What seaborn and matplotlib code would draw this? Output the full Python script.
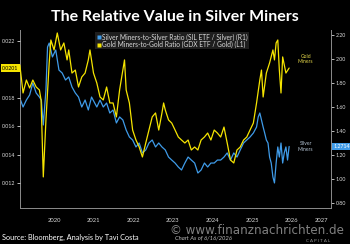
import numpy as np
import pandas as pd
import matplotlib
matplotlib.use("Agg")
import matplotlib.pyplot as plt
import seaborn as sns
from matplotlib.lines import Line2D

# ---------------- data ----------------
gold_t = [2019.636, 2019.717, 2019.801, 2019.883, 2019.964, 2020.048, 2020.130, 2020.172,
          2020.228, 2020.295, 2020.377, 2020.419, 2020.500, 2020.581, 2020.665, 2020.747,
          2020.828, 2020.870, 2020.952, 2021.036, 2021.117, 2021.199, 2021.283, 2021.364,
          2021.406, 2021.495, 2021.579, 2021.660, 2021.742, 2021.826, 2021.907, 2021.989,
          2022.073, 2022.154, 2022.236, 2022.278, 2022.320, 2022.401, 2022.483, 2022.567,
          2022.648, 2022.730, 2022.814, 2022.895, 2022.977, 2023.061, 2023.142, 2023.223,
          2023.265, 2023.307, 2023.389, 2023.470, 2023.554, 2023.636, 2023.717, 2023.801,
          2023.883, 2023.964, 2024.048, 2024.130, 2024.211, 2024.295, 2024.377, 2024.458,
          2024.542, 2024.623, 2024.705, 2024.789, 2024.870, 2024.952, 2025.036, 2025.117,
          2025.199, 2025.283, 2025.364, 2025.446, 2025.530, 2025.611, 2025.693, 2025.735,
          2025.777, 2025.858, 2025.940, 2026.024, 2026.063, 2026.105, 2026.147, 2026.186,
          2026.228, 2026.270, 2026.352, 2026.433]
gold_ratio = [0.02029, 0.01833, 0.01924, 0.01868, 0.01924, 0.01875, 0.01854, 0.01784,
              0.01244, 0.01644, 0.02044, 0.02205, 0.02135, 0.02254, 0.02135, 0.02184,
              0.02065, 0.02135, 0.01973, 0.01994, 0.01875, 0.01945, 0.01973, 0.02065,
              0.02135, 0.01973, 0.01903, 0.01805, 0.01784, 0.01875, 0.01763, 0.01763,
              0.01665, 0.01854, 0.01994, 0.02065, 0.01854, 0.01763, 0.01573, 0.01503,
              0.01454, 0.01384, 0.01482, 0.01573, 0.01665, 0.01693, 0.01573, 0.01693,
              0.01763, 0.01714, 0.01644, 0.01622, 0.01573, 0.01524, 0.01503, 0.01482,
              0.01503, 0.01433, 0.01454, 0.01433, 0.01503, 0.01524, 0.01552, 0.01503,
              0.01573, 0.01552, 0.01524, 0.01594, 0.01482, 0.01363, 0.01342, 0.01433,
              0.01454, 0.01503, 0.01524, 0.01573, 0.01622, 0.01763, 0.01924, 0.01994,
              0.01805, 0.01973, 0.02044, 0.02135, 0.02065, 0.02184, 0.02205, 0.01994,
              0.01833, 0.02086, 0.01973, 0.02008]

silver_t = [2019.636, 2019.717, 2019.801, 2019.883, 2019.964, 2020.048, 2020.130, 2020.179,
            2020.228, 2020.295, 2020.335, 2020.377, 2020.458, 2020.542, 2020.623, 2020.705,
            2020.789, 2020.870, 2020.952, 2021.036, 2021.117, 2021.199, 2021.283, 2021.364,
            2021.446, 2021.579, 2021.660, 2021.742, 2021.826, 2021.907, 2021.989, 2022.073,
            2022.154, 2022.236, 2022.320, 2022.401, 2022.483, 2022.567, 2022.648, 2022.730,
            2022.814, 2022.895, 2022.977, 2023.061, 2023.142, 2023.223, 2023.307, 2023.389,
            2023.470, 2023.554, 2023.636, 2023.717, 2023.801, 2023.883, 2023.964, 2024.048,
            2024.130, 2024.211, 2024.295, 2024.377, 2024.458, 2024.542, 2024.623, 2024.705,
            2024.789, 2024.870, 2024.952, 2025.036, 2025.117, 2025.199, 2025.283, 2025.364,
            2025.446, 2025.530, 2025.611, 2025.653, 2025.693, 2025.735, 2025.777, 2025.816,
            2025.858, 2025.900, 2025.940, 2025.981, 2026.024, 2026.063, 2026.105, 2026.147,
            2026.186, 2026.228, 2026.270, 2026.310, 2026.352, 2026.393, 2026.433]
silver_ratio = [1.675, 1.600, 1.658, 1.700, 1.800, 1.717, 1.683, 1.658,
                1.450, 1.742, 2.100, 2.133, 2.017, 2.075, 1.908, 1.883,
                1.825, 1.850, 1.767, 1.717, 1.683, 1.600, 1.658, 1.575,
                1.683, 1.600, 1.658, 1.600, 1.633, 1.550, 1.575, 1.467,
                1.517, 1.492, 1.408, 1.350, 1.325, 1.267, 1.300, 1.217,
                1.242, 1.300, 1.325, 1.267, 1.300, 1.267, 1.242, 1.183,
                1.158, 1.133, 1.100, 1.075, 1.133, 1.183, 1.158, 1.133,
                1.050, 1.075, 1.133, 1.100, 1.133, 1.133, 1.158, 1.158,
                1.183, 1.217, 1.158, 1.217, 1.183, 1.242, 1.300, 1.325,
                1.350, 1.383, 1.433, 1.517, 1.550, 1.492, 1.433, 1.383,
                1.325, 1.300, 1.183, 1.133, 1.017, 0.967, 1.133, 1.267,
                1.183, 1.300, 1.133, 1.217, 1.267, 1.158, 1.271]

years = [2020, 2021, 2022, 2023, 2024, 2025, 2026, 2027]
left_ticks = [0.012, 0.014, 0.016, 0.018, 0.022]   # 0.020 hidden behind the last-value tag
right_ticks = [0.80, 1.00, 1.20, 1.40, 1.60, 1.80, 2.00, 2.20]
silver_label = "Silver Miners-to-Silver Ratio (SIL ETF / Silver) (R1)"
gold_label = "Gold Miners-to-Gold Ratio (GDX ETF / Gold) (L1)"
last_gold = "0.0201"
last_silver = "1.2714"

# ---------------- styling ----------------
BLUE = "#3f9be8"
YELLOW = "#f5e400"
BG = "black"
TXT = "#d9d9d9"

sns.set_theme(style="dark")
plt.rcParams["font.family"] = ["Lato", "DejaVu Sans"]

fig = plt.figure(figsize=(3.5, 2.44), dpi=100, facecolor=BG)
ax = fig.add_axes([20 / 350, 1 - 208 / 244, (331 - 20) / 350, (208 - 30) / 244])
ax.set_facecolor(BG)
ax2 = ax.twinx()

df_s = pd.DataFrame({"t": silver_t, "v": silver_ratio})
df_g = pd.DataFrame({"t": gold_t, "v": gold_ratio})

# silver on primary axis (ticks on right), gold on twin (ticks on left, drawn on top)
sns.lineplot(data=df_s, x="t", y="v", ax=ax, color=BLUE, linewidth=0.9)
sns.lineplot(data=df_g, x="t", y="v", ax=ax2, color=YELLOW, linewidth=0.9)

xmin, xmax = 2019.64, 2027.49
ax.set_xlim(xmin, xmax)
ax.set_ylim(0.7583, 2.2417)
ax2.set_ylim(0.01026, 0.02275)

ax.yaxis.tick_right()
ax.yaxis.set_label_position("right")
ax2.yaxis.tick_left()
ax2.yaxis.set_label_position("left")
ax.set_xlabel("")
ax.set_ylabel("")
ax2.set_ylabel("")
ax.grid(False)
ax2.grid(False)

ax.set_yticks(right_ticks)
ax.set_yticklabels([f"{v:.2f}" for v in right_ticks])
ax2.set_yticks(left_ticks)
ax2.set_yticklabels([f"{v:.3f}" for v in left_ticks])
for a in (ax, ax2):
    a.tick_params(axis="y", colors=TXT, labelsize=3.8, length=2, width=0.6, pad=1.5)

# x: long ticks at year boundaries, labels centred in each visible year
ax.set_xticks([y for y in years if xmin < y < xmax])
ax.set_xticklabels([])
centers = [(max(y, xmin) + min(y + 1, xmax)) / 2 for y in years]
ax.set_xticks(centers, minor=True)
ax.set_xticklabels([str(y) for y in years], minor=True)
ax.tick_params(axis="x", which="major", colors="#9a9a9a", length=11, width=0.6, direction="out")
ax.tick_params(axis="x", which="minor", colors=TXT, labelsize=4.2, length=0, pad=7)

for a in (ax, ax2):
    for s in a.spines.values():
        s.set_visible(False)
for side in ("left", "bottom", "right"):
    ax.spines[side].set_visible(True)
    ax.spines[side].set_color("#8c8c8c")
    ax.spines[side].set_linewidth(0.7)

# legend
handles = [Line2D([], [], marker="s", color="none", markerfacecolor=BLUE, markeredgecolor="none", markersize=3.4),
           Line2D([], [], marker="s", color="none", markerfacecolor=YELLOW, markeredgecolor="none", markersize=3.4)]
leg = ax2.legend(handles, [silver_label, gold_label], loc="upper left",
                 bbox_to_anchor=((95 - 20) / 311, 1 - 2 / 178), fontsize=4.8,
                 frameon=True, facecolor="#1e1e1e", edgecolor="none", framealpha=1,
                 borderpad=0.2, labelspacing=0.05, handletextpad=0.1, handlelength=0.8,
                 borderaxespad=0, fancybox=False)
for t in leg.get_texts():
    t.set_color(TXT)

# last-value highlight boxes
ax2.annotate(last_gold, xy=(0, gold_ratio[-1]), xycoords=("axes fraction", "data"),
             xytext=(-1, 0), textcoords="offset points", ha="right", va="center",
             fontsize=3.8, color="black",
             bbox=dict(boxstyle="square,pad=0.25", fc=YELLOW, ec="none"))
ax.annotate(last_silver, xy=(1, silver_ratio[-1]), xycoords=("axes fraction", "data"),
            xytext=(1.5, 0), textcoords="offset points", ha="left", va="center",
            fontsize=3.8, color="white",
            bbox=dict(boxstyle="square,pad=0.25", fc=BLUE, ec="none"))

# in-chart series labels
ax2.text(2026.85, 2.0, "Gold\nMiners", transform=ax.transData, ha="center", va="center",
         fontsize=3.6, color="#e6d84a", linespacing=1.1)
ax.text(2026.85, 1.27, "Silver\nMiners", ha="center", va="center",
        fontsize=3.6, color="#b8c8d8", linespacing=1.1)

# title and footer
fig.text(0.5, 1 - 17 / 244, "The Relative Value in Silver Miners", ha="center", va="center",
         fontsize=11.5, fontweight="bold", color="white")
fig.text(2 / 350, 1 - 237 / 244, "Source: Bloomberg, Analysis by Tavi Costa", ha="left",
         va="center", fontsize=5.3, color="white")
fig.text(175 / 350, 1 - 238 / 244, "Chart As of 6/16/2026", ha="left", va="center",
         fontsize=4.2, color="#bdbdbd", style="italic")
fig.text(318 / 350, 1 - 241 / 244, "C A P I T A L", ha="center", va="center",
         fontsize=3.2, color="#9a9a9a")
fig.text(344 / 350, 1 - 231 / 244, "© www.finanznachrichten.de", ha="right", va="center",
         fontsize=8.6, color="white", alpha=0.5, family="DejaVu Sans")

fig.savefig("out.png", dpi=100, facecolor=BG)
